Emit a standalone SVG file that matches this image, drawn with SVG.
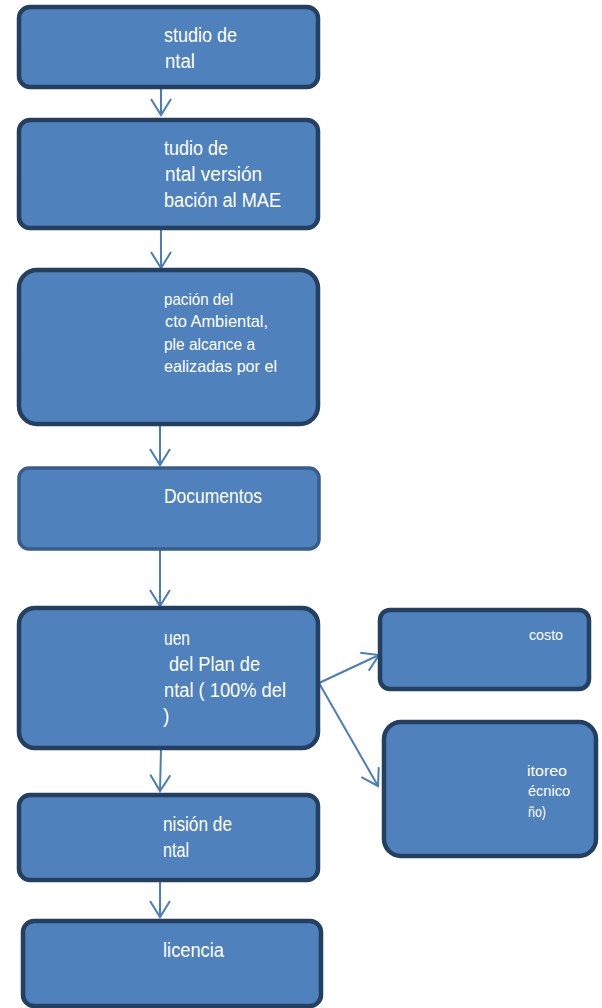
<svg xmlns="http://www.w3.org/2000/svg" width="602" height="1008" viewBox="0 0 602 1008">
<defs>
<style>
.box{fill:#4F81BD;stroke:#243F60;stroke-width:4.5}
.box2{fill:#4F81BD;stroke:#385D8A;stroke-width:3.5}
.t{fill:#FFFFFF;font-family:"Liberation Sans",Arial,sans-serif;font-size:19.5px}
.ts{fill:#FFFFFF;font-family:"Liberation Sans",Arial,sans-serif;font-size:17px}
.tx{fill:#FFFFFF;font-family:"Liberation Sans",Arial,sans-serif;font-size:15.5px}
.c{stroke:#4A7EBB;stroke-width:2;fill:none}
</style>
<marker id="ah" viewBox="-18 -12 20 24" refX="0" refY="0" markerWidth="20" markerHeight="24" markerUnits="userSpaceOnUse" orient="auto">
<path d="M-16,-10 L0,0 L-16,10" fill="none" stroke="#4A7EBB" stroke-width="2"/>
</marker>
</defs>
<rect width="602" height="1008" fill="#FFFFFF"/>
<g id="connectors">
<line class="c" x1="161" y1="88" x2="161" y2="115" marker-end="url(#ah)"/>
<line class="c" x1="161" y1="229" x2="161" y2="268" marker-end="url(#ah)"/>
<line class="c" x1="160" y1="425" x2="160" y2="465" marker-end="url(#ah)"/>
<line class="c" x1="160" y1="550" x2="160" y2="606" marker-end="url(#ah)"/>
<line class="c" x1="319" y1="683" x2="379" y2="655" marker-end="url(#ah)"/>
<line class="c" x1="319" y1="683" x2="378" y2="786" marker-end="url(#ah)"/>
<line class="c" x1="161" y1="749" x2="160" y2="791" marker-end="url(#ah)"/>
<line class="c" x1="160" y1="881" x2="160" y2="917" marker-end="url(#ah)"/>
</g>
<g id="n1">
<rect class="box" x="19" y="7" width="299" height="80" rx="11"/>
<text class="t" x="164" y="42" textLength="73" lengthAdjust="spacingAndGlyphs">studio de</text>
<text class="t" x="165" y="68" textLength="30" lengthAdjust="spacingAndGlyphs">ntal</text>
</g>
<g id="n2">
<rect class="box" x="19" y="120" width="299" height="108" rx="11"/>
<text class="t" x="164" y="155" textLength="64" lengthAdjust="spacingAndGlyphs">tudio de</text>
<text class="t" x="165" y="181" textLength="97" lengthAdjust="spacingAndGlyphs">ntal versión</text>
<text class="t" x="164" y="207" textLength="117" lengthAdjust="spacingAndGlyphs">bación al MAE</text>
</g>
<g id="n3">
<rect class="box" x="19" y="270" width="299" height="154" rx="18"/>
<text class="ts" x="164" y="305" textLength="69" lengthAdjust="spacingAndGlyphs">pación del</text>
<text class="ts" x="165" y="327" textLength="103" lengthAdjust="spacingAndGlyphs">cto Ambiental,</text>
<text class="ts" x="164" y="350" textLength="91" lengthAdjust="spacingAndGlyphs">ple alcance a</text>
<text class="ts" x="164" y="372" textLength="113" lengthAdjust="spacingAndGlyphs">ealizadas por el</text>
</g>
<g id="n4">
<rect class="box2" x="19" y="468" width="300" height="81" rx="10"/>
<text class="t" x="164" y="503" textLength="98" lengthAdjust="spacingAndGlyphs">Documentos</text>
</g>
<g id="n5">
<rect class="box" x="19" y="608" width="299" height="140" rx="16"/>
<text class="t" x="164" y="645" textLength="26" lengthAdjust="spacingAndGlyphs">uen</text>
<text class="t" x="169" y="671" textLength="91" lengthAdjust="spacingAndGlyphs">del Plan de</text>
<text class="t" x="164" y="697" textLength="122" lengthAdjust="spacingAndGlyphs">ntal ( 100% del</text>
<text class="t" x="163" y="723">)</text>
</g>
<g id="n6">
<rect class="box" x="380" y="610" width="209" height="79" rx="10"/>
<text class="tx" x="529" y="640" textLength="34" lengthAdjust="spacingAndGlyphs">costo</text>
</g>
<g id="n7">
<rect class="box" x="384" y="722" width="212" height="134" rx="17"/>
<text class="tx" x="527" y="776" textLength="40" lengthAdjust="spacingAndGlyphs">itoreo</text>
<text class="tx" x="528" y="796" textLength="42" lengthAdjust="spacingAndGlyphs">écnico</text>
<text class="tx" x="528" y="817" textLength="18" lengthAdjust="spacingAndGlyphs">ño)</text>
</g>
<g id="n8">
<rect class="box" x="19" y="795" width="299" height="85" rx="11"/>
<text class="t" x="163" y="831" textLength="69" lengthAdjust="spacingAndGlyphs">nisión de</text>
<text class="t" x="163" y="857" textLength="26" lengthAdjust="spacingAndGlyphs">ntal</text>
</g>
<g id="n9">
<rect class="box" x="23" y="921" width="298" height="85" rx="11"/>
<text class="t" x="163" y="957" textLength="61" lengthAdjust="spacingAndGlyphs">licencia</text>
</g>
</svg>
